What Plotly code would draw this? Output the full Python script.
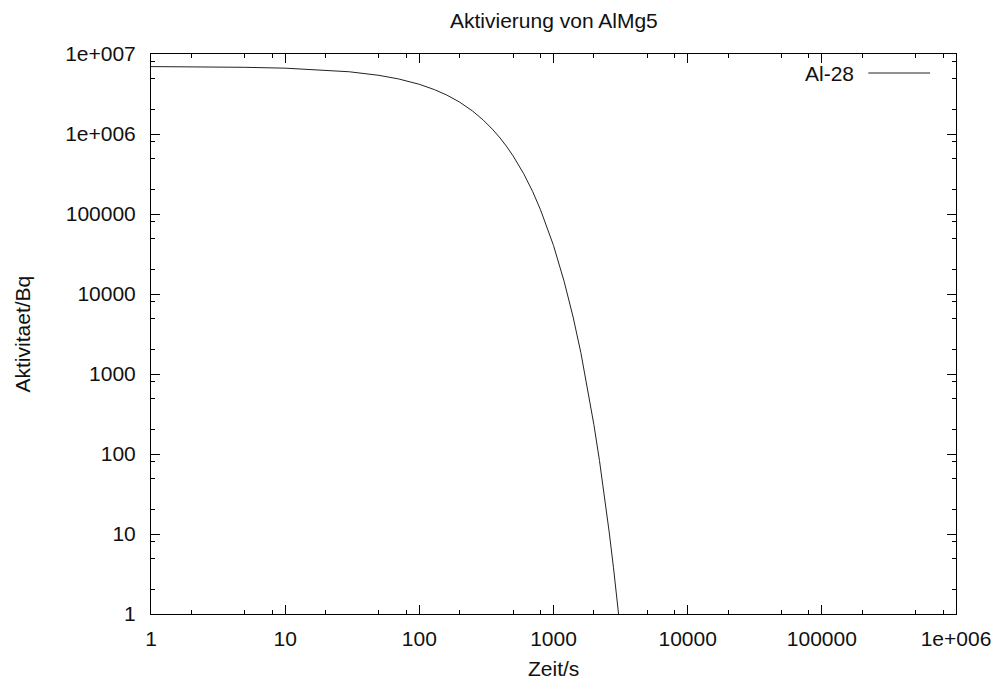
import plotly.graph_objects as go

# Data (time in s, activity in Bq)
zeit_s = [1, 2, 5, 10, 20, 30, 50, 70, 100, 130, 160, 200, 250, 300, 350, 400, 450,
          500, 600, 700, 800, 900, 1000, 1200, 1400, 1600, 1800, 2000, 2200, 2400,
          2600, 2800, 3000, 3100]
aktivitaet_bq = [6.96e6, 6.93e6, 6.82e6, 6.65e6, 6.31e6, 6.00e6, 5.41e6, 4.88e6, 4.18e6,
                 3.58e6, 3.07e6, 2.50e6, 1.93e6, 1.49e6, 1.15e6, 8.91e5, 6.88e5,
                 5.32e5, 3.18e5, 1.90e5, 1.13e5, 6.77e4, 4.04e4, 1.44e4, 5.15e3,
                 1.84e3, 655, 233, 83.3, 29.7, 10.6, 3.78, 1.35, 0.80]

x_tickvals = [1, 10, 100, 1000, 10000, 100000, 1000000]
x_ticktext = ["1", "10", "100", "1000", "10000", "100000", "1e+006"]
y_tickvals = [1, 10, 100, 1000, 10000, 100000, 1000000, 10000000]
y_ticktext = ["1", "10", "100", "1000", "10000", "100000", "1e+006", "1e+007"]

minor_mult = [2, 5, 8]
x_minor = [m * 10 ** e for e in range(0, 6) for m in minor_mult]
y_minor = [m * 10 ** e for e in range(0, 7) for m in minor_mult]

W, H = 1003, 682
L, R, T, B = 151, 959, 54, 614
FONT = "Liberation Sans, Arial, sans-serif"
FS = 21
INK = "#111111"

def px(xp):
    return (xp - L) / (R - L)

def py(yp):
    return (B - yp) / (B - T)

fig = go.Figure()
fig.add_trace(go.Scatter(x=zeit_s, y=aktivitaet_bq, mode="lines",
                         line=dict(color="#222222", width=1), name="Al-28",
                         showlegend=False))

axis_common = dict(
    type="log", showline=True, linecolor="#000000", linewidth=1, mirror="ticks",
    ticks="inside", ticklen=9, tickwidth=1, tickcolor="#000000",
    showgrid=False, zeroline=False,
    tickfont=dict(family=FONT, size=FS, color=INK),
)

fig.update_layout(
    width=W, height=H,
    margin=dict(l=L, r=W - R, t=T, b=H - B),
    paper_bgcolor="white", plot_bgcolor="white",
    showlegend=False,
    xaxis=dict(range=[0, 6], tickmode="array", tickvals=x_tickvals, ticktext=x_ticktext,
               ticklabelstandoff=6,
               minor=dict(tickmode="array", tickvals=x_minor, ticks="inside", ticklen=4,
                          tickwidth=1, tickcolor="#000000", showgrid=False),
               **axis_common),
    yaxis=dict(range=[0, 7], tickmode="array", tickvals=y_tickvals, ticktext=y_ticktext,
               ticklabelstandoff=10,
               minor=dict(tickmode="array", tickvals=y_minor, ticks="inside", ticklen=4,
                          tickwidth=1, tickcolor="#000000", showgrid=False),
               **axis_common),
)

annotations = [
    dict(text="Aktivierung von AlMg5", x=px((L + R) / 2), y=py(20), xref="paper", yref="paper",
         showarrow=False, xanchor="center", yanchor="middle",
         font=dict(family=FONT, size=FS, color=INK)),
    dict(text="Zeit/s", x=px((L + R) / 2), y=py(668), xref="paper", yref="paper",
         showarrow=False, xanchor="center", yanchor="middle",
         font=dict(family=FONT, size=FS, color=INK)),
    dict(text="Aktivitaet/Bq", x=px(22), y=py((T + B) / 2), xref="paper", yref="paper",
         showarrow=False, xanchor="center", yanchor="middle", textangle=-90,
         font=dict(family=FONT, size=FS, color=INK)),
    dict(text="Al-28", x=px(859), y=py(73), xref="paper", yref="paper",
         showarrow=False, xanchor="right", yanchor="middle",
         font=dict(family=FONT, size=FS, color=INK)),
]
fig.update_layout(annotations=annotations)
fig.add_shape(type="line", xref="paper", yref="paper",
              x0=px(871), x1=px(933), y0=py(73), y1=py(73),
              line=dict(color="#222222", width=1))

fig.write_html("out.html")
